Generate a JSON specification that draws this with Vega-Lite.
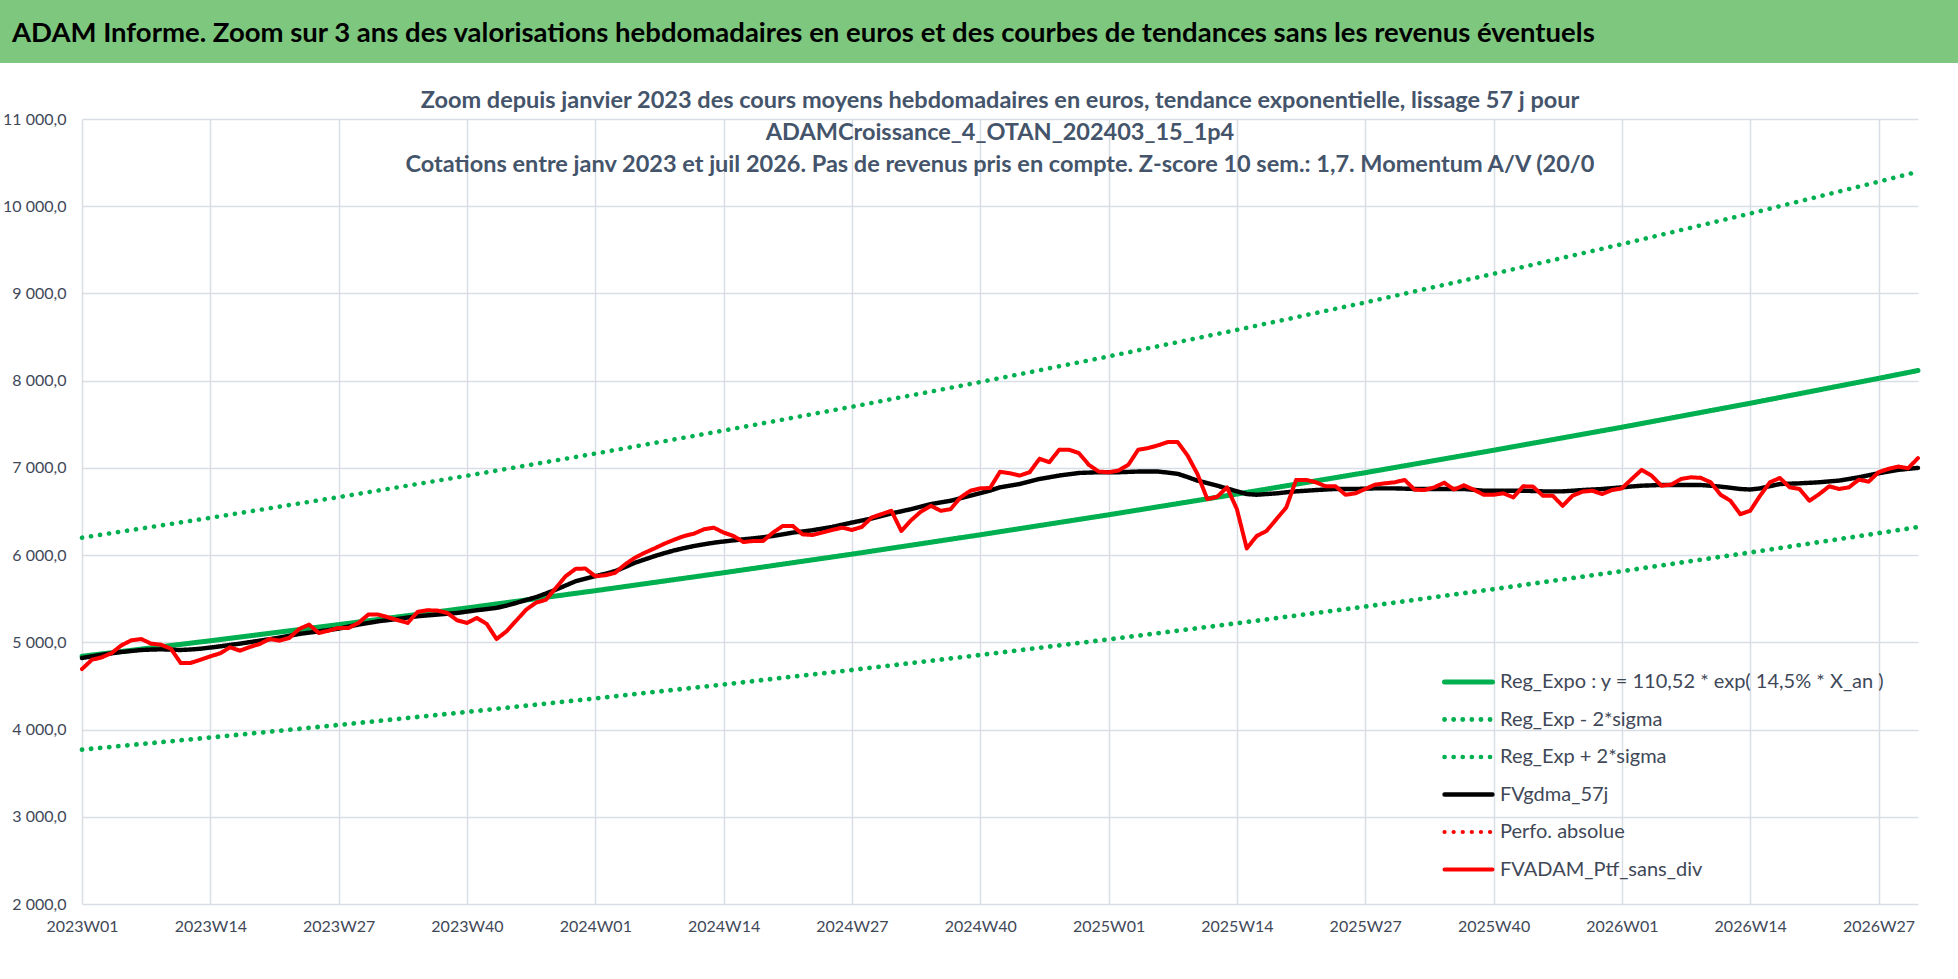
{
  "$schema": "https://vega.github.io/schema/vega-lite/v6.json",
  "background": "white",
  "padding": 0,
  "autosize": {"type": "pad"},
  "config": {
    "locale": {"number": {"decimal": ",", "thousands": " ", "grouping": [3], "currency": ["", " €"]}},
    "font": "Lato",
    "view": {"stroke": null}
  },
  "datasets": {
    "tendance": [
      {"semaine":"2023W01","reg":4840,"bas":3770,"haut":6200},
      {"semaine":"2023W14","reg":5018,"bas":3909,"haut":6428},
      {"semaine":"2023W27","reg":5203,"bas":4053,"haut":6665},
      {"semaine":"2023W40","reg":5394,"bas":4202,"haut":6910},
      {"semaine":"2024W01","reg":5592,"bas":4357,"haut":7164},
      {"semaine":"2024W14","reg":5798,"bas":4517,"haut":7428},
      {"semaine":"2024W27","reg":6011,"bas":4683,"haut":7701},
      {"semaine":"2024W40","reg":6233,"bas":4855,"haut":7984},
      {"semaine":"2025W01","reg":6462,"bas":5034,"haut":8278},
      {"semaine":"2025W14","reg":6700,"bas":5219,"haut":8582},
      {"semaine":"2025W27","reg":6945,"bas":5410,"haut":8897},
      {"semaine":"2025W40","reg":7202,"bas":5610,"haut":9225},
      {"semaine":"2026W01","reg":7466,"bas":5816,"haut":9565},
      {"semaine":"2026W14","reg":7741,"bas":6030,"haut":9916},
      {"semaine":"2026W27","reg":8026,"bas":6252,"haut":10281},
      {"semaine":"2026W31","reg":8116,"bas":6322,"haut":10396}
    ],
    "hebdo": [
      {"semaine":"2023W01","moy":4820,"ptf":4694},
      {"semaine":"2023W02","moy":4840,"ptf":4800},
      {"semaine":"2023W03","moy":4858,"ptf":4828},
      {"semaine":"2023W04","moy":4874,"ptf":4877},
      {"semaine":"2023W05","moy":4889,"ptf":4966},
      {"semaine":"2023W06","moy":4901,"ptf":5023},
      {"semaine":"2023W07","moy":4912,"ptf":5038},
      {"semaine":"2023W08","moy":4917,"ptf":4985},
      {"semaine":"2023W09","moy":4920,"ptf":4973},
      {"semaine":"2023W10","moy":4916,"ptf":4927},
      {"semaine":"2023W11","moy":4912,"ptf":4763},
      {"semaine":"2023W12","moy":4918,"ptf":4763},
      {"semaine":"2023W13","moy":4927,"ptf":4800},
      {"semaine":"2023W14","moy":4940,"ptf":4839},
      {"semaine":"2023W15","moy":4954,"ptf":4874},
      {"semaine":"2023W16","moy":4970,"ptf":4943},
      {"semaine":"2023W17","moy":4985,"ptf":4904},
      {"semaine":"2023W18","moy":5002,"ptf":4946},
      {"semaine":"2023W19","moy":5019,"ptf":4981},
      {"semaine":"2023W20","moy":5036,"ptf":5038},
      {"semaine":"2023W21","moy":5054,"ptf":5019},
      {"semaine":"2023W22","moy":5075,"ptf":5050},
      {"semaine":"2023W23","moy":5096,"ptf":5153},
      {"semaine":"2023W24","moy":5111,"ptf":5203},
      {"semaine":"2023W25","moy":5126,"ptf":5107},
      {"semaine":"2023W26","moy":5141,"ptf":5134},
      {"semaine":"2023W27","moy":5157,"ptf":5165},
      {"semaine":"2023W28","moy":5180,"ptf":5165},
      {"semaine":"2023W29","moy":5203,"ptf":5222},
      {"semaine":"2023W30","moy":5222,"ptf":5318},
      {"semaine":"2023W31","moy":5241,"ptf":5318},
      {"semaine":"2023W32","moy":5255,"ptf":5287},
      {"semaine":"2023W33","moy":5268,"ptf":5253},
      {"semaine":"2023W34","moy":5284,"ptf":5222},
      {"semaine":"2023W35","moy":5299,"ptf":5349},
      {"semaine":"2023W36","moy":5309,"ptf":5368},
      {"semaine":"2023W37","moy":5318,"ptf":5364},
      {"semaine":"2023W38","moy":5328,"ptf":5337},
      {"semaine":"2023W39","moy":5337,"ptf":5253},
      {"semaine":"2023W40","moy":5352,"ptf":5222},
      {"semaine":"2023W41","moy":5368,"ptf":5280},
      {"semaine":"2023W42","moy":5381,"ptf":5211},
      {"semaine":"2023W43","moy":5395,"ptf":5038},
      {"semaine":"2023W44","moy":5420,"ptf":5126},
      {"semaine":"2023W45","moy":5452,"ptf":5250},
      {"semaine":"2023W46","moy":5485,"ptf":5375},
      {"semaine":"2023W47","moy":5518,"ptf":5455},
      {"semaine":"2023W48","moy":5560,"ptf":5488},
      {"semaine":"2023W49","moy":5604,"ptf":5623},
      {"semaine":"2023W50","moy":5652,"ptf":5758},
      {"semaine":"2023W51","moy":5700,"ptf":5842},
      {"semaine":"2023W52","moy":5730,"ptf":5846},
      {"semaine":"2024W01","moy":5758,"ptf":5758},
      {"semaine":"2024W02","moy":5785,"ptf":5769},
      {"semaine":"2024W03","moy":5815,"ptf":5796},
      {"semaine":"2024W04","moy":5862,"ptf":5892},
      {"semaine":"2024W05","moy":5912,"ptf":5969},
      {"semaine":"2024W06","moy":5950,"ptf":6027},
      {"semaine":"2024W07","moy":5988,"ptf":6077},
      {"semaine":"2024W08","moy":6022,"ptf":6131},
      {"semaine":"2024W09","moy":6054,"ptf":6177},
      {"semaine":"2024W10","moy":6080,"ptf":6219},
      {"semaine":"2024W11","moy":6104,"ptf":6246},
      {"semaine":"2024W12","moy":6124,"ptf":6296},
      {"semaine":"2024W13","moy":6142,"ptf":6315},
      {"semaine":"2024W14","moy":6156,"ptf":6258},
      {"semaine":"2024W15","moy":6169,"ptf":6219},
      {"semaine":"2024W16","moy":6181,"ptf":6150},
      {"semaine":"2024W17","moy":6192,"ptf":6162},
      {"semaine":"2024W18","moy":6205,"ptf":6162},
      {"semaine":"2024W19","moy":6219,"ptf":6258},
      {"semaine":"2024W20","moy":6238,"ptf":6335},
      {"semaine":"2024W21","moy":6258,"ptf":6335},
      {"semaine":"2024W22","moy":6271,"ptf":6238},
      {"semaine":"2024W23","moy":6285,"ptf":6231},
      {"semaine":"2024W24","moy":6304,"ptf":6258},
      {"semaine":"2024W25","moy":6323,"ptf":6288},
      {"semaine":"2024W26","moy":6348,"ptf":6315},
      {"semaine":"2024W27","moy":6373,"ptf":6288},
      {"semaine":"2024W28","moy":6396,"ptf":6323},
      {"semaine":"2024W29","moy":6419,"ptf":6431},
      {"semaine":"2024W30","moy":6448,"ptf":6469},
      {"semaine":"2024W31","moy":6477,"ptf":6508},
      {"semaine":"2024W32","moy":6502,"ptf":6277},
      {"semaine":"2024W33","moy":6527,"ptf":6400},
      {"semaine":"2024W34","moy":6556,"ptf":6500},
      {"semaine":"2024W35","moy":6585,"ptf":6565},
      {"semaine":"2024W36","moy":6604,"ptf":6508},
      {"semaine":"2024W37","moy":6623,"ptf":6527},
      {"semaine":"2024W38","moy":6652,"ptf":6662},
      {"semaine":"2024W39","moy":6681,"ptf":6738},
      {"semaine":"2024W40","moy":6710,"ptf":6765},
      {"semaine":"2024W41","moy":6740,"ptf":6770},
      {"semaine":"2024W42","moy":6777,"ptf":6955},
      {"semaine":"2024W43","moy":6796,"ptf":6938},
      {"semaine":"2024W44","moy":6815,"ptf":6912},
      {"semaine":"2024W45","moy":6844,"ptf":6950},
      {"semaine":"2024W46","moy":6873,"ptf":7104},
      {"semaine":"2024W47","moy":6892,"ptf":7065},
      {"semaine":"2024W48","moy":6912,"ptf":7208},
      {"semaine":"2024W49","moy":6927,"ptf":7208},
      {"semaine":"2024W50","moy":6942,"ptf":7169},
      {"semaine":"2024W51","moy":6946,"ptf":7035},
      {"semaine":"2024W52","moy":6950,"ptf":6958},
      {"semaine":"2025W01","moy":6950,"ptf":6950},
      {"semaine":"2025W02","moy":6950,"ptf":6969},
      {"semaine":"2025W03","moy":6954,"ptf":7035},
      {"semaine":"2025W04","moy":6958,"ptf":7208},
      {"semaine":"2025W05","moy":6958,"ptf":7227},
      {"semaine":"2025W06","moy":6958,"ptf":7258},
      {"semaine":"2025W07","moy":6946,"ptf":7296},
      {"semaine":"2025W08","moy":6931,"ptf":7296},
      {"semaine":"2025W09","moy":6895,"ptf":7142},
      {"semaine":"2025W10","moy":6854,"ptf":6931},
      {"semaine":"2025W11","moy":6825,"ptf":6642},
      {"semaine":"2025W12","moy":6796,"ptf":6669},
      {"semaine":"2025W13","moy":6763,"ptf":6777},
      {"semaine":"2025W14","moy":6731,"ptf":6527},
      {"semaine":"2025W15","moy":6700,"ptf":6077},
      {"semaine":"2025W16","moy":6692,"ptf":6219},
      {"semaine":"2025W17","moy":6700,"ptf":6277},
      {"semaine":"2025W18","moy":6708,"ptf":6412},
      {"semaine":"2025W19","moy":6720,"ptf":6546},
      {"semaine":"2025W20","moy":6731,"ptf":6862},
      {"semaine":"2025W21","moy":6738,"ptf":6862},
      {"semaine":"2025W22","moy":6746,"ptf":6835},
      {"semaine":"2025W23","moy":6752,"ptf":6789},
      {"semaine":"2025W24","moy":6758,"ptf":6789},
      {"semaine":"2025W25","moy":6758,"ptf":6692},
      {"semaine":"2025W26","moy":6758,"ptf":6708},
      {"semaine":"2025W27","moy":6762,"ptf":6758},
      {"semaine":"2025W28","moy":6765,"ptf":6808},
      {"semaine":"2025W29","moy":6765,"ptf":6823},
      {"semaine":"2025W30","moy":6765,"ptf":6835},
      {"semaine":"2025W31","moy":6762,"ptf":6862},
      {"semaine":"2025W32","moy":6758,"ptf":6750},
      {"semaine":"2025W33","moy":6758,"ptf":6746},
      {"semaine":"2025W34","moy":6758,"ptf":6777},
      {"semaine":"2025W35","moy":6758,"ptf":6830},
      {"semaine":"2025W36","moy":6758,"ptf":6752},
      {"semaine":"2025W37","moy":6758,"ptf":6800},
      {"semaine":"2025W38","moy":6748,"ptf":6750},
      {"semaine":"2025W39","moy":6738,"ptf":6692},
      {"semaine":"2025W40","moy":6738,"ptf":6692},
      {"semaine":"2025W41","moy":6738,"ptf":6708},
      {"semaine":"2025W42","moy":6738,"ptf":6662},
      {"semaine":"2025W43","moy":6738,"ptf":6789},
      {"semaine":"2025W44","moy":6735,"ptf":6785},
      {"semaine":"2025W45","moy":6731,"ptf":6681},
      {"semaine":"2025W46","moy":6731,"ptf":6681},
      {"semaine":"2025W47","moy":6731,"ptf":6565},
      {"semaine":"2025W48","moy":6738,"ptf":6681},
      {"semaine":"2025W49","moy":6746,"ptf":6727},
      {"semaine":"2025W50","moy":6752,"ptf":6738},
      {"semaine":"2025W51","moy":6758,"ptf":6700},
      {"semaine":"2025W52","moy":6768,"ptf":6746},
      {"semaine":"2026W01","moy":6777,"ptf":6765},
      {"semaine":"2026W02","moy":6787,"ptf":6873},
      {"semaine":"2026W03","moy":6796,"ptf":6977},
      {"semaine":"2026W04","moy":6800,"ptf":6912},
      {"semaine":"2026W05","moy":6804,"ptf":6796},
      {"semaine":"2026W06","moy":6804,"ptf":6808},
      {"semaine":"2026W07","moy":6804,"ptf":6873},
      {"semaine":"2026W08","moy":6804,"ptf":6892},
      {"semaine":"2026W09","moy":6804,"ptf":6885},
      {"semaine":"2026W10","moy":6795,"ptf":6835},
      {"semaine":"2026W11","moy":6785,"ptf":6692},
      {"semaine":"2026W12","moy":6772,"ptf":6623},
      {"semaine":"2026W13","moy":6758,"ptf":6469},
      {"semaine":"2026W14","moy":6752,"ptf":6508},
      {"semaine":"2026W15","moy":6765,"ptf":6681},
      {"semaine":"2026W16","moy":6790,"ptf":6835},
      {"semaine":"2026W17","moy":6815,"ptf":6885},
      {"semaine":"2026W18","moy":6819,"ptf":6777},
      {"semaine":"2026W19","moy":6823,"ptf":6758},
      {"semaine":"2026W20","moy":6829,"ptf":6623},
      {"semaine":"2026W21","moy":6835,"ptf":6700},
      {"semaine":"2026W22","moy":6845,"ptf":6789},
      {"semaine":"2026W23","moy":6854,"ptf":6758},
      {"semaine":"2026W24","moy":6873,"ptf":6777},
      {"semaine":"2026W25","moy":6892,"ptf":6865},
      {"semaine":"2026W26","moy":6915,"ptf":6842},
      {"semaine":"2026W27","moy":6938,"ptf":6950},
      {"semaine":"2026W28","moy":6958,"ptf":6988},
      {"semaine":"2026W29","moy":6977,"ptf":7015},
      {"semaine":"2026W30","moy":6989,"ptf":6996},
      {"semaine":"2026W31","moy":7000,"ptf":7112}
    ]
  },
  "spacing": 56,
  "bounds": "flush",
  "vconcat": [
    {
      "width": 1958,
      "height": 63,
      "data": {"values": [{"zone": "bandeau"}]},
      "mark": {"type": "rect", "fill": "#7DC87E", "strokeWidth": 0},
      "view": {"fill": "#7DC87E", "stroke": null},
      "title": {
        "text": "ADAM Informe. Zoom sur 3 ans des valorisations hebdomadaires en euros et des courbes de tendances sans les revenus éventuels",
        "anchor": "start", "frame": "group", "orient": "top", "offset": -69, "dx": 12,
        "baseline": "alphabetic", "font": "Lato", "fontSize": 27.5, "fontWeight": "bold", "color": "#000000"
      }
    },
    {
      "spacing": 0,
      "bounds": "flush",
      "hconcat": [
        {
          "width": 82,
          "height": 785,
          "data": {"values": []},
          "mark": {"type": "rect", "opacity": 0}
        },
        {
          "width": 1836,
          "height": 785,
          "title": {
            "text": [
              "Zoom depuis janvier 2023 des cours moyens hebdomadaires  en euros, tendance exponentielle, lissage 57 j pour",
              "ADAMCroissance_4_OTAN_202403_15_1p4",
              "Cotations  entre janv 2023 et juil 2026. Pas de revenus pris en compte. Z-score 10 sem.: 1,7. Momentum A/V (20/0"
            ],
            "anchor": "middle", "frame": "group", "orient": "top", "offset": -84.5,
            "baseline": "alphabetic", "lineHeight": 32, "font": "Lato", "fontSize": 23.5,
            "fontWeight": "bold", "color": "#44546A"
          },
          "encoding": {
            "x": {
              "field": "semaine", "type": "ordinal",
              "scale": {"type": "point", "padding": 0},
              "axis": {
                "values": ["2023W01","2023W14","2023W27","2023W40","2024W01","2024W14","2024W27","2024W40","2025W01","2025W14","2025W27","2025W40","2026W01","2026W14","2026W27"],
                "title": null, "labelAngle": 0, "domain": false, "ticks": false, "grid": true,
                "gridColor": "#D9DDE4", "gridWidth": 1.5, "labelFont": "Lato", "labelFontSize": 16,
                "labelColor": "#404858", "labelPadding": 14, "labelOverlap": false
              }
            },
            "y": {
              "field": "valeur", "type": "quantitative",
              "scale": {"domain": [2000, 11000], "nice": false, "zero": false},
              "axis": {
                "values": [2000,3000,4000,5000,6000,7000,8000,9000,10000,11000],
                "format": ",.1f", "title": null, "domain": false, "ticks": false, "grid": true,
                "gridColor": "#D9DDE4", "gridWidth": 1.5, "labelFont": "Lato", "labelFontSize": 16,
                "labelColor": "#404858", "labelPadding": 16
              }
            },
            "color": {
              "field": "serie", "type": "nominal",
              "scale": {
                "domain": ["reg","bas","haut","moy","perfo","ptf"],
                "range": ["#00B050","#00B050","#00B050","#000000","#FF0000","#FF0000"]
              },
              "legend": {
                "title": null, "orient": "none", "legendX": 1442, "legendY": 672,
                "symbolType": "stroke", "symbolSize": 2304, "clipHeight": 20, "rowPadding": 17.5,
                "labelFont": "Lato", "labelFontSize": 20, "labelColor": "#404858", "labelOffset": 5,
                "labelLimit": 700, "padding": 0,
                "labelExpr": "{'reg': 'Reg_Expo : y = 110,52 * exp( 14,5% *  X_an )', 'bas': 'Reg_Exp - 2*sigma', 'haut': 'Reg_Exp + 2*sigma', 'moy': 'FVgdma_57j', 'perfo': 'Perfo. absolue', 'ptf': 'FVADAM_Ptf_sans_div'}[datum.label]",
                "encode": {"symbols": {"update": {"strokeCap": {"value": "round"}}}}
              }
            },
            "strokeDash": {
              "field": "serie", "type": "nominal",
              "scale": {
                "domain": ["reg","bas","haut","moy","perfo","ptf"],
                "range": [[1,0],[0.1,9],[0.1,9],[1,0],[0.1,9],[1,0]]
              }
            },
            "strokeWidth": {
              "field": "serie", "type": "nominal",
              "scale": {
                "domain": ["reg","bas","haut","moy","perfo","ptf"],
                "range": [5,4,4,5.5,4,5.5]
              }
            }
          },
          "layer": [
            {
              "data": {"name": "tendance"},
              "transform": [{"fold": ["reg","bas","haut"], "as": ["serie","valeur"]}],
              "mark": {"type": "line", "strokeCap": "round"}
            },
            {
              "data": {"name": "hebdo"},
              "transform": [{"fold": ["moy","ptf"], "as": ["serie","valeur"]}],
              "mark": {"type": "line", "strokeCap": "round", "strokeJoin": "round"}
            }
          ]
        }
      ]
    }
  ]
}
